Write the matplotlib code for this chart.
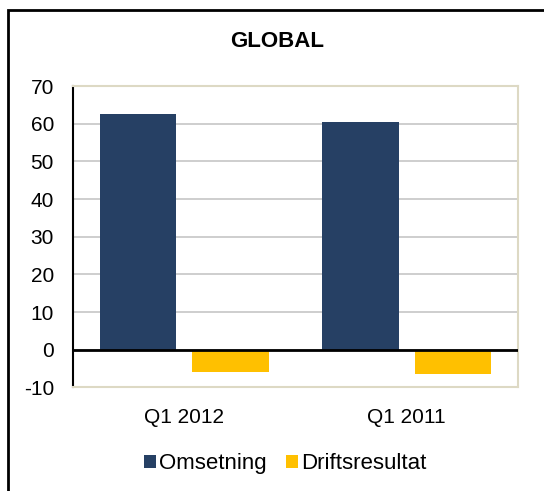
import matplotlib
matplotlib.use("Agg")
import matplotlib.pyplot as plt
from matplotlib.patches import Rectangle

# data
categories = ["Q1 2012", "Q1 2011"]
omsetning = [62.5, 60.4]
driftsresultat = [-6.0, -6.45]
yticks = [-10, 0, 10, 20, 30, 40, 50, 60, 70]

navy = "#264064"
gold = "#FFC000"

plt.rcParams["font.family"] = ["Liberation Sans", "DejaVu Sans"]

fig = plt.figure(figsize=(5.44, 4.91), dpi=100)
ax = fig.add_axes([0.1342, 0.2108, 0.818, 0.614])

x = list(range(len(categories)))
w = 0.342
ax.bar([i - 0.208 for i in x], omsetning, width=w, color=navy, label="Omsetning", zorder=3)
ax.bar([i + 0.208 for i in x], driftsresultat, width=w, color=gold, label="Driftsresultat", zorder=3)

ax.set_xlim(-0.5, len(categories) - 0.5)
ax.set_ylim(-10, 70)
ax.set_yticks(yticks)
ax.set_yticklabels([str(v) for v in yticks], fontsize=15)
ax.set_xticks(x)
ax.set_xticklabels(categories, fontsize=15)
ax.tick_params(axis="y", length=0, pad=13.7)
ax.tick_params(axis="x", length=0, pad=15)

# grid and frame
ax.yaxis.grid(True, color="#C6C6C6", linewidth=1.2, zorder=0)
ax.axhline(0, color="black", linewidth=2, zorder=4)
for side in ["top", "right", "bottom"]:
    ax.spines[side].set_color("#DDD9C4")
    ax.spines[side].set_linewidth(1.5)
ax.spines["left"].set_color("black")
ax.spines["left"].set_linewidth(1.5)

fig.text(0.510, 0.915, "GLOBAL", ha="center", va="center", fontsize=16, fontweight="bold")

ax.legend(loc="center", bbox_to_anchor=(0.524, 0.055), bbox_transform=fig.transFigure,
          ncol=2, frameon=False, fontsize=16, handlelength=0.54, handleheight=0.54,
          handletextpad=0.15, columnspacing=0.86)

# outer border (clipped on right and bottom like the original)
fig.patches.append(Rectangle((8 / 544, -0.05), 1.1, 1.05 - 10 / 491,
                             transform=fig.transFigure, fill=False,
                             edgecolor="black", linewidth=2, clip_on=False))

fig.savefig("out.png", dpi=100)
